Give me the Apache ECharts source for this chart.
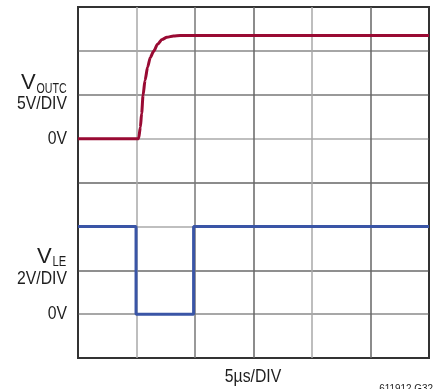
<!DOCTYPE html>
<html><head><meta charset="utf-8">
<script src="https://cdn.jsdelivr.net/npm/echarts@6/dist/echarts.min.js"></script>
<style>html,body{margin:0;padding:0;background:#fff}#c{width:448px;height:389px}</style>
</head><body><div id="c"></div>
<script>
// time axis in microseconds (5 µs/DIV, 6 divisions)
const xTicks = [0, 5, 10, 15, 20, 25, 30];
// V_OUTC trace (µs, V) 5V/DIV, 0V at division 5
const voutcTime = [0, 5.18, 5.33, 5.44, 5.56, 5.73, 5.95, 6.18, 6.46, 6.80, 7.18, 7.60, 8.16, 8.74, 30];
const voutcVolts = [0, 0, 1.3, 2.85, 4.95, 6.65, 8.15, 9.25, 9.95, 10.75, 11.3, 11.55, 11.7, 11.75, 11.75];
// V_LE trace (µs, V) 2V/DIV, 0V at division 1
const vleTime = [0, 4.96, 4.96, 9.88, 9.88, 30];
const vleVolts = [4, 4, 0, 0, 4, 4];
// screen scale: divisions
const voutcZeroDiv = 5, voutcPerDiv = 5;
const vleZeroDiv = 1, vlePerDiv = 2;

const redData = voutcTime.map((t, i) => [t, voutcZeroDiv + voutcVolts[i] / voutcPerDiv]);
const blueData = vleTime.map((t, i) => [t, vleZeroDiv + vleVolts[i] / vlePerDiv]);

const chart = echarts.init(document.getElementById('c'), null, {renderer: 'canvas'});
const F = '"Liberation Sans", Arial, sans-serif';
const txt = (x, y, s, size, align, sx) => ({type: 'text', x: x, y: y, scaleX: sx || 0.83, scaleY: 1,
  style: {text: s, fill: '#1e1e1e', font: size + 'px ' + F, textAlign: align || 'right', textVerticalAlign: 'middle'}});
chart.setOption({
  animation: false,
  grid: {left: 78, top: 7, width: 351, height: 351, show: true, borderColor: '#333', borderWidth: 2, backgroundColor: 'transparent'},
  xAxis: {type: 'value', min: xTicks[0], max: xTicks[xTicks.length - 1], interval: 5,
    axisLine: {show: false}, axisTick: {show: false}, axisLabel: {show: false},
    splitLine: {show: true, lineStyle: {width: 1.5, color: ['#333', '#a8a8a8', '#777', '#666', '#a8a8a8', '#666', '#333']}}},
  yAxis: {type: 'value', min: 0, max: 8, interval: 1,
    axisLine: {show: false}, axisTick: {show: false}, axisLabel: {show: false},
    splitLine: {show: true, lineStyle: {width: 1.5, color: ['#333', '#8a8a8a', '#6a6a6a', '#aaa', '#666', '#aaa', '#777', '#888', '#333']}}},
  series: [
    {type: 'line', data: redData, showSymbol: false, smooth: 0.25, smoothMonotone: 'x', lineStyle: {color: '#990a33', width: 3}, z: 3},
    {type: 'line', data: blueData, showSymbol: false, lineStyle: {color: '#3a55a6', width: 3}, z: 3}
  ],
  graphic: [
    txt(21, 83, 'V', 22, 'left', 1), txt(36.5, 89, 'OUTC', 14, 'left', 0.76),
    txt(67, 103.5, '5V/DIV', 19),
    txt(67, 139, '0V', 19),
    txt(37, 257, 'V', 22, 'left', 1), txt(52.5, 262, 'LE', 14, 'left', 0.8),
    txt(67, 278.5, '2V/DIV', 19),
    txt(67, 313.5, '0V', 19),
    txt(253, 377, '5µs/DIV', 19, 'center'),
    txt(433, 389, '611912 G32', 11, 'right', 0.9)
  ]
});
</script></body></html>
